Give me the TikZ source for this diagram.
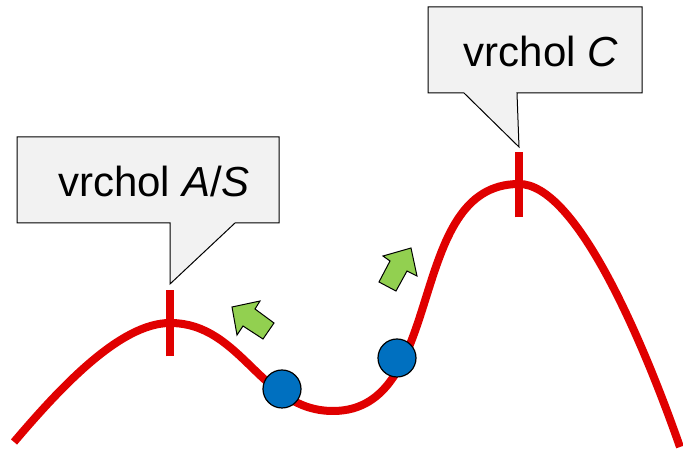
\documentclass[tikz,border=0pt]{standalone}
\usepackage{fontspec}
\setmainfont{Liberation Sans}
\usepackage{tikz}

\definecolor{peakred}{HTML}{E00000}
\definecolor{ballblue}{HTML}{0070C0}
\definecolor{movegreen}{HTML}{92D050}
\definecolor{notegray}{HTML}{F2F2F2}

\begin{document}
\begin{tikzpicture}[x=0.75pt, y=0.75pt,
    note/.style={fill=notegray, draw=black, line width=0.75pt},
    label/.style={anchor=base, font=\fontsize{31.5}{36}\selectfont},
    ball/.style={circle, fill=ballblue, draw=black, line width=0.9pt, minimum size=28.5pt, inner sep=0pt},
    move/.style={fill=movegreen, draw=black, line width=0.75pt, line join=miter},
    hill/.style={draw=peakred, line width=6pt}]
    \useasboundingbox (0,0) rectangle (683,453);

    % callouts
    \draw[note] (17,316) -- (279,316) -- (279,230) -- (235,230) -- (170,169) -- (170,230) -- (17,230) -- cycle;
    \node (labelA) [label] at (154,256) {vrchol \textit{A}/\textit{S}};
    \draw[note] (428,446) -- (642,446) -- (642,360) -- (517,360) -- (519,306) -- (464,360) -- (428,360) -- cycle;
    \node (labelC) [label] at (541,386) {vrchol \textit{C}};

    % landscape
    \coordinate (start) at (14,11);
    \coordinate (peakA) at (170,130);
    \coordinate (valley) at (333,42);
    \coordinate (peakC) at (519,269);
    \coordinate (end) at (680,6);
    \draw[hill] (start) .. controls (60,65) and (120,130) .. (peakA)
        to[out=0, in=180] (valley)
        to[out=0, in=180] (peakC)
        .. controls (575,269) and (640,120) .. (end);
    \draw[hill] ([yshift=-25]peakA) -- ([yshift=25]peakA);
    \draw[hill] ([yshift=-25]peakC) -- ([yshift=24]peakC);

    % arrows
    \draw[move] (232,146) -- (260,152) -- (255,144) -- (274,130) -- (263,114) -- (243,127) -- (237,118) -- cycle;
    \draw[move] (411,205) -- (417,177) -- (407,182) -- (396,162) -- (379,171) -- (390,192) -- (383,197) -- cycle;

    % balls
    \node (ball1) [ball] at (282,64) {};
    \node (ball2) [ball] at (397,95) {};
\end{tikzpicture}
\end{document}
